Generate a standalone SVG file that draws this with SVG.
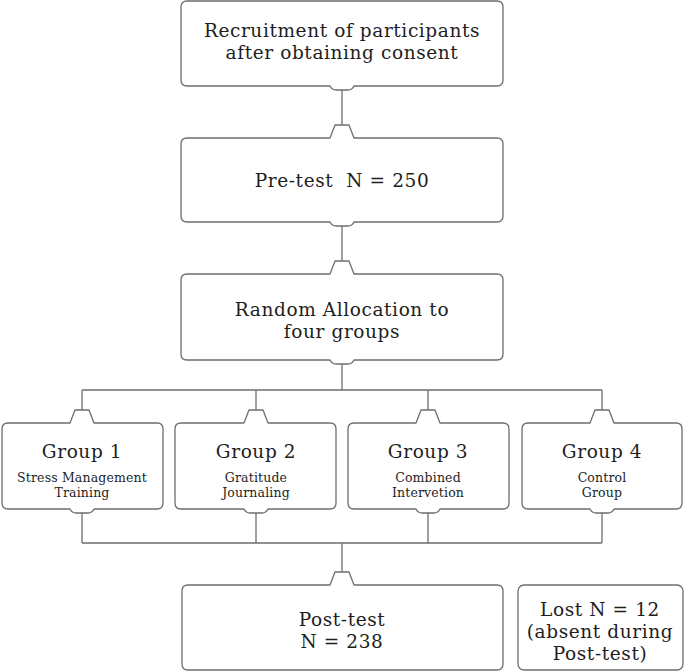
<svg xmlns="http://www.w3.org/2000/svg" width="685" height="672" viewBox="0 0 685 672">
<style>
.box{fill:#fff;stroke:#6e6e6e;stroke-width:1.3;stroke-linejoin:round}
.conn{fill:none;stroke:#6e6e6e;stroke-width:1.3}
text{font-family:"DejaVu Serif","Liberation Serif",serif;fill:#1e1e1e;text-anchor:middle}
.big{font-size:18.5px;letter-spacing:0.6px}
.sub{font-size:12.5px;letter-spacing:0.15px}
</style>
<rect width="685" height="672" fill="#fff"/>
<g id="connectors">
<path class="conn" d="M342,90 V125 M342,226 V261 M342,364 V390 M82,390 H602 M82,390 V410 M256,390 V410 M428,390 V410 M602,390 V410 M82,513 V543 M256,513 V543 M428,513 V543 M602,513 V543 M82,543 H602 M342,543 V572"/>
</g>
<g id="recruitment">
<path class="box" d="M187,1 H497 Q503,1 503,7 V80 Q503,86 497,86 H354 Q352,90 348,90 H336 Q332,90 330,86 H187 Q181,86 181,80 V7 Q181,1 187,1 Z"/>
<text class="big" x="342" y="37">Recruitment of participants</text>
<text class="big" x="342" y="59">after obtaining consent</text>
</g>
<g id="pretest">
<path class="box" d="M187,138 H330 L335,125 H349 L354,138 H497 Q503,138 503,144 V216 Q503,222 497,222 H354 Q352,226 348,226 H336 Q332,226 330,222 H187 Q181,222 181,216 V144 Q181,138 187,138 Z"/>
<text class="big" x="342" y="187" xml:space="preserve" style="white-space:pre">Pre-test  N = 250</text>
</g>
<g id="random">
<path class="box" d="M187,274 H330 L335,261 H349 L354,274 H497 Q503,274 503,280 V354 Q503,360 497,360 H354 Q352,364 348,364 H336 Q332,364 330,360 H187 Q181,360 181,354 V280 Q181,274 187,274 Z"/>
<text class="big" x="342" y="316">Random Allocation to</text>
<text class="big" x="342" y="338">four groups</text>
</g>
<g id="group1">
<path class="box" d="M8,423 H70 L75,410 H89 L94,423 H157 Q163,423 163,429 V503 Q163,509 157,509 H94 Q92,513 88,513 H76 Q72,513 70,509 H8 Q2,509 2,503 V429 Q2,423 8,423 Z"/>
<text class="big" x="82" y="458">Group 1</text>
<text class="sub" x="82" y="482">Stress Management</text>
<text class="sub" x="82" y="497">Training</text>
</g>
<g id="group2">
<path class="box" d="M181,423 H244 L249,410 H263 L268,423 H330 Q336,423 336,429 V503 Q336,509 330,509 H268 Q266,513 262,513 H250 Q246,513 244,509 H181 Q175,509 175,503 V429 Q175,423 181,423 Z"/>
<text class="big" x="256" y="458">Group 2</text>
<text class="sub" x="256" y="482">Gratitude</text>
<text class="sub" x="256" y="497">Journaling</text>
</g>
<g id="group3">
<path class="box" d="M354,423 H416 L421,410 H435 L440,423 H503 Q509,423 509,429 V503 Q509,509 503,509 H440 Q438,513 434,513 H422 Q418,513 416,509 H354 Q348,509 348,503 V429 Q348,423 354,423 Z"/>
<text class="big" x="428" y="458">Group 3</text>
<text class="sub" x="428" y="482">Combined</text>
<text class="sub" x="428" y="497">Intervetion</text>
</g>
<g id="group4">
<path class="box" d="M528,423 H590 L595,410 H609 L614,423 H676 Q682,423 682,429 V503 Q682,509 676,509 H614 Q612,513 608,513 H596 Q592,513 590,509 H528 Q522,509 522,503 V429 Q522,423 528,423 Z"/>
<text class="big" x="602" y="458">Group 4</text>
<text class="sub" x="602" y="482">Control</text>
<text class="sub" x="602" y="497">Group</text>
</g>
<g id="posttest">
<path class="box" d="M188,585 H330 L335,572 H349 L354,585 H497 Q503,585 503,591 V664 Q503,670 497,670 H188 Q182,670 182,664 V591 Q182,585 188,585 Z"/>
<text class="big" x="342" y="626">Post-test</text>
<text class="big" x="342" y="648">N = 238</text>
</g>
<g id="lost">
<rect class="box" x="518" y="585" width="165" height="85" rx="6"/>
<text class="big" x="600" y="616">Lost N = 12</text>
<text class="big" x="600" y="638">(absent during</text>
<text class="big" x="600" y="660">Post-test)</text>
</g>
</svg>
